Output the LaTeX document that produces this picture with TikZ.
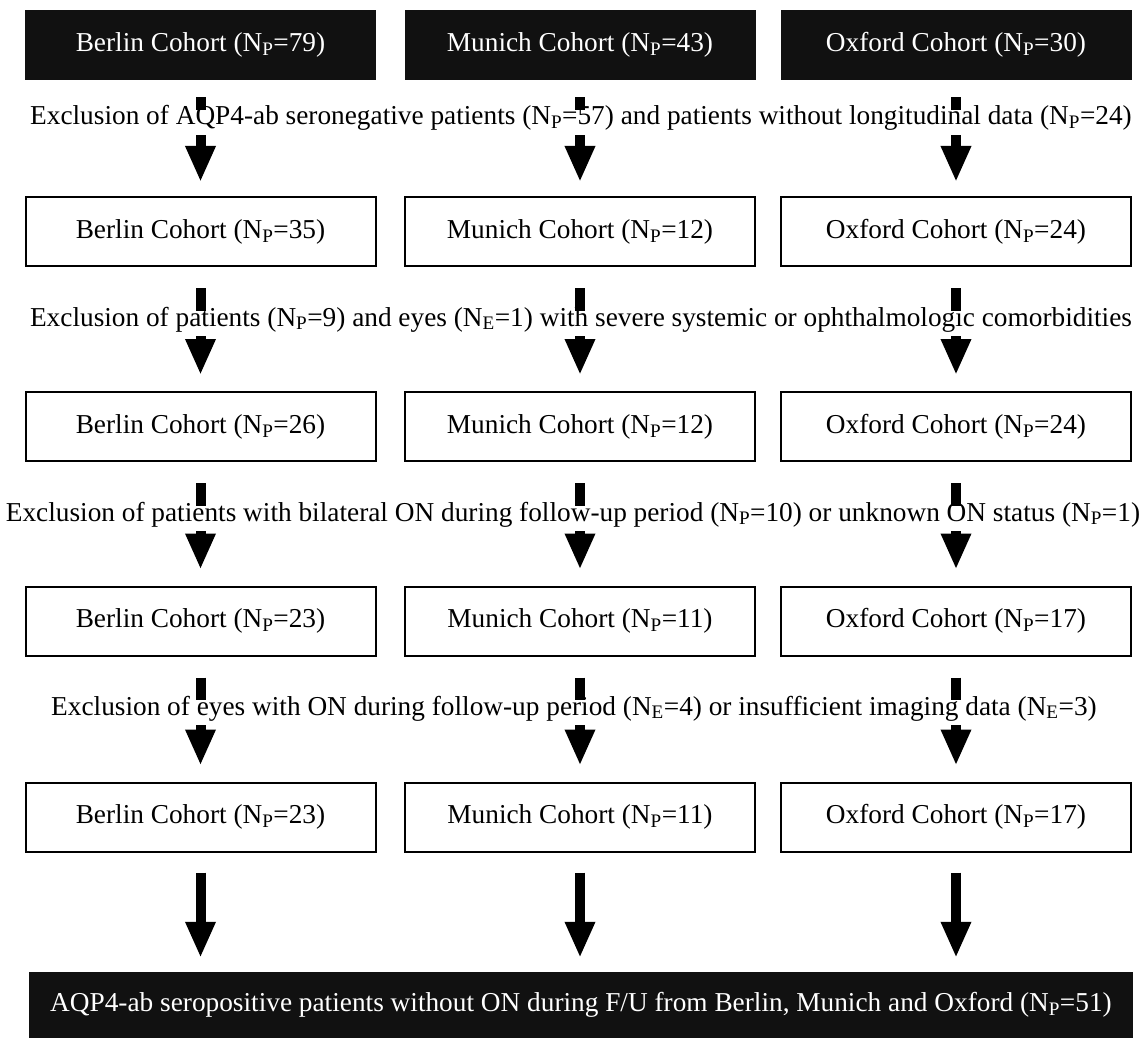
\documentclass[tikz,border=0pt]{standalone}
\usepackage{fontspec}
\setmainfont{Liberation Serif}
\usetikzlibrary{arrows.meta}
\definecolor{cohortblack}{HTML}{111111}
\newcommand{\Np}{N\textsubscript{P}}
\newcommand{\Ne}{N\textsubscript{E}}

\begin{document}
\begin{tikzpicture}[x=1pt,y=-1pt,
  font=\fontsize{27.3}{31}\selectfont,
  darkbox/.style={fill=cohortblack,text=white,minimum width=351pt,minimum height=70pt,inner sep=0pt},
  cohortbox/.style={draw=black,line width=2pt,minimum width=350pt,minimum height=69pt,inner sep=0pt},
  exclusion/.style={fill=white,inner sep=0pt,anchor=base,text height=15pt,text depth=10pt},
  flow/.style={line width=10pt,shorten <=21pt,shorten >=16pt,-{Triangle[width=28pt,length=36pt]}}]
  \useasboundingbox (0,0) rectangle (1146,1038);
  % cohorts as recruited
  \node[darkbox] (berlin1) at (200.5,45) {Berlin Cohort (\Np=79)};
  \node[darkbox] (munich1) at (580,45) {Munich Cohort (\Np=43)};
  \node[darkbox] (oxford1) at (956,45) {Oxford Cohort (\Np=30)};
  % after each exclusion step
  \node[cohortbox] (berlin2) at (200.5,231.5) {Berlin Cohort (\Np=35)};
  \node[cohortbox] (munich2) at (580,231.5) {Munich Cohort (\Np=12)};
  \node[cohortbox] (oxford2) at (956,231.5) {Oxford Cohort (\Np=24)};
  \node[cohortbox] (berlin3) at (200.5,426.5) {Berlin Cohort (\Np=26)};
  \node[cohortbox] (munich3) at (580,426.5) {Munich Cohort (\Np=12)};
  \node[cohortbox] (oxford3) at (956,426.5) {Oxford Cohort (\Np=24)};
  \node[cohortbox] (berlin4) at (200.5,621) {Berlin Cohort (\Np=23)};
  \node[cohortbox] (munich4) at (580,621) {Munich Cohort (\Np=11)};
  \node[cohortbox] (oxford4) at (956,621) {Oxford Cohort (\Np=17)};
  \node[cohortbox] (berlin5) at (200.5,817) {Berlin Cohort (\Np=23)};
  \node[cohortbox] (munich5) at (580,817) {Munich Cohort (\Np=11)};
  \node[cohortbox] (oxford5) at (956,817) {Oxford Cohort (\Np=17)};
  \node[darkbox,minimum width=1104pt,minimum height=66pt] (pooled) at (581,1005)
    {AQP4-ab seropositive patients without ON during F/U from Berlin, Munich and Oxford (\Np=51)};
  % arrows
  \draw[flow,shorten <=17pt,shorten >=14pt] (berlin1) -- (berlin2);
  \draw[flow,shorten <=17pt,shorten >=14pt] (munich1) -- (munich2);
  \draw[flow,shorten <=17pt,shorten >=14pt] (oxford1) -- (oxford2);
  \draw[flow] (berlin2) -- (berlin3);
  \draw[flow] (munich2) -- (munich3);
  \draw[flow] (oxford2) -- (oxford3);
  \draw[flow] (berlin3) -- (berlin4);
  \draw[flow] (munich3) -- (munich4);
  \draw[flow] (oxford3) -- (oxford4);
  \draw[flow] (berlin4) -- (berlin5);
  \draw[flow] (munich4) -- (munich5);
  \draw[flow] (oxford4) -- (oxford5);
  \draw[flow,shorten <=20pt,shorten >=14pt] (berlin5) -- (berlin5 |- pooled.north);
  \draw[flow,shorten <=20pt,shorten >=14pt] (munich5) -- (munich5 |- pooled.north);
  \draw[flow,shorten <=20pt,shorten >=14pt] (oxford5) -- (oxford5 |- pooled.north);
  % exclusion criteria over the arrows
  \node[exclusion] (excl1) at (581,125) {Exclusion of AQP4-ab seronegative patients (\Np=57) and patients without longitudinal data (\Np=24)};
  \node[exclusion] (excl2) at (581,326) {Exclusion of patients (\Np=9) and eyes (\Ne=1) with severe systemic or ophthalmologic comorbidities};
  \node[exclusion] (excl3) at (573,521) {Exclusion of patients with bilateral ON during follow-up period (\Np=10) or unknown ON status (\Np=1)};
  \node[exclusion] (excl4) at (574,715) {Exclusion of eyes with ON during follow-up period (\Ne=4) or insufficient imaging data (\Ne=3)};
\end{tikzpicture}
\end{document}
